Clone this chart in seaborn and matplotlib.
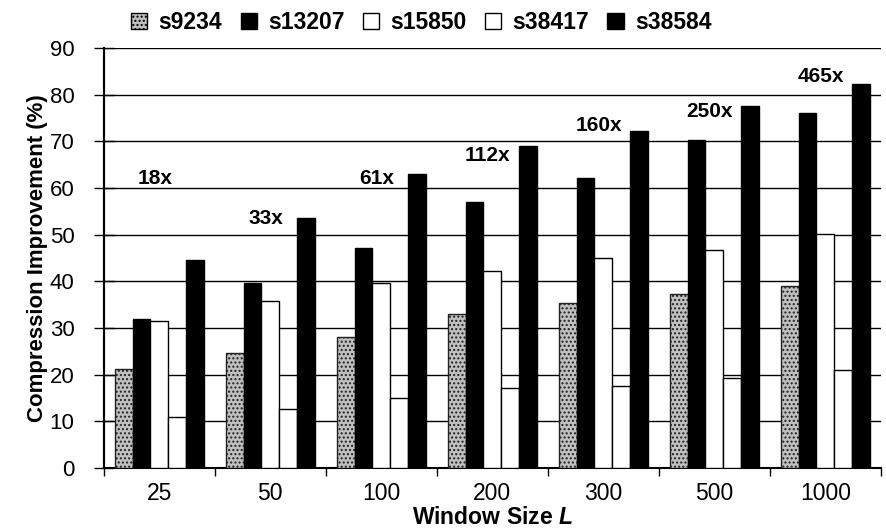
import pandas as pd
import matplotlib
matplotlib.use("Agg")
import matplotlib.pyplot as plt
import seaborn as sns
from matplotlib.patches import Patch

# window sizes and the five circuits
windows = ["25", "50", "100", "200", "300", "500", "1000"]
circuits = ["s9234", "s13207", "s15850", "s38417", "s38584"]

s9234 = [21.2, 24.6, 28.1, 33.0, 35.3, 37.3, 39.0]
s13207 = [31.9, 39.6, 47.1, 57.0, 62.1, 70.2, 76.0]
s15850 = [31.5, 35.8, 39.6, 42.2, 45.0, 46.7, 50.1]
s38417 = [10.9, 12.6, 15.0, 17.1, 17.6, 19.3, 21.0]
s38584 = [44.5, 53.5, 63.0, 69.0, 72.2, 77.5, 82.2]

speedups = ["18x", "33x", "61x", "112x", "160x", "250x", "465x"]
speedup_y = [62, 53.5, 62, 67, 73.5, 76.5, 84]

values = [s9234, s13207, s15850, s38417, s38584]
rows = []
for c, vals in zip(circuits, values):
    for w, v in zip(windows, vals):
        rows.append({"window": w, "circuit": c, "value": v})
df = pd.DataFrame(rows)

sns.set_style("white")
plt.rcParams["font.family"] = ["Liberation Sans", "DejaVu Sans"]
plt.rcParams["mathtext.fontset"] = "custom"
plt.rcParams["mathtext.bfit"] = "Liberation Sans:italic:bold"
for k in ["text.color", "axes.labelcolor", "xtick.color", "ytick.color"]:
    plt.rcParams[k] = "black"

faces = ["#c0c0c0", "black", "white", "white", "black"]
hatches = ["....", None, None, None, None]

fig = plt.figure(figsize=(8.87, 5.28), dpi=100)
ax = fig.add_axes([0.117, 0.114, 0.876, 0.795])

sns.barplot(data=df, x="window", y="value", hue="circuit", order=windows,
            hue_order=circuits, palette=faces, width=0.8, gap=0,
            edgecolor="black", linewidth=1, legend=False, ax=ax, zorder=3)

for cont, fc, h in zip(ax.containers, faces, hatches):
    for bar in cont:
        bar.set_facecolor(fc)
        bar.set_edgecolor("#222222" if h else "black")
        if h:
            bar.set_hatch(h)

ax.set_ylim(0, 90)
ax.set_xlim(-0.5, len(windows) - 0.5)
ax.set_yticks(range(0, 91, 10))
ax.yaxis.grid(True, color="black", linewidth=1)
ax.set_axisbelow(True)
for s in ["top", "right"]:
    ax.spines[s].set_visible(False)
for s in ["left", "bottom"]:
    ax.spines[s].set_color("black")
    ax.spines[s].set_linewidth(1.5)
# draw the y axis line explicitly so it always shows
ax.axvline(-0.5, color="black", linewidth=1.5, zorder=4, clip_on=False)

ax.tick_params(axis="y", direction="inout", length=14, width=1, labelsize=16,
               left=True, pad=14, color="black")
ax.set_xticks(range(len(windows)))
ax.set_xticklabels(windows, fontsize=16.5)
ax.set_xticks([i - 0.5 for i in range(len(windows) + 1)], minor=True)
ax.tick_params(axis="x", which="major", length=0, pad=10)
ax.tick_params(axis="x", which="minor", direction="out", length=6, width=1,
               bottom=True, color="black")

ax.set_ylabel("Compression Improvement (%)", fontsize=16, fontweight="bold",
              labelpad=1)
ax.set_xlabel(r"Window Size $\mathbfit{L}$", fontsize=16.5, fontweight="bold",
              labelpad=1)

for i, (lab, y) in enumerate(zip(speedups, speedup_y)):
    ax.text(i - 0.04, y, lab, ha="center", va="center", fontsize=15,
            fontweight="bold", zorder=5)

handles = [Patch(facecolor=fc, edgecolor="black", hatch=h, label=c)
           for c, fc, h in zip(circuits, faces, hatches)]
fig.legend(handles=handles, loc="center", bbox_to_anchor=(0.475, 0.958), ncol=5,
           frameon=False, prop={"size": 16.5, "weight": "bold"},
           handlelength=0.7, handleheight=0.7, handletextpad=0.5,
           columnspacing=0.8)

fig.savefig("out.png", dpi=100)
